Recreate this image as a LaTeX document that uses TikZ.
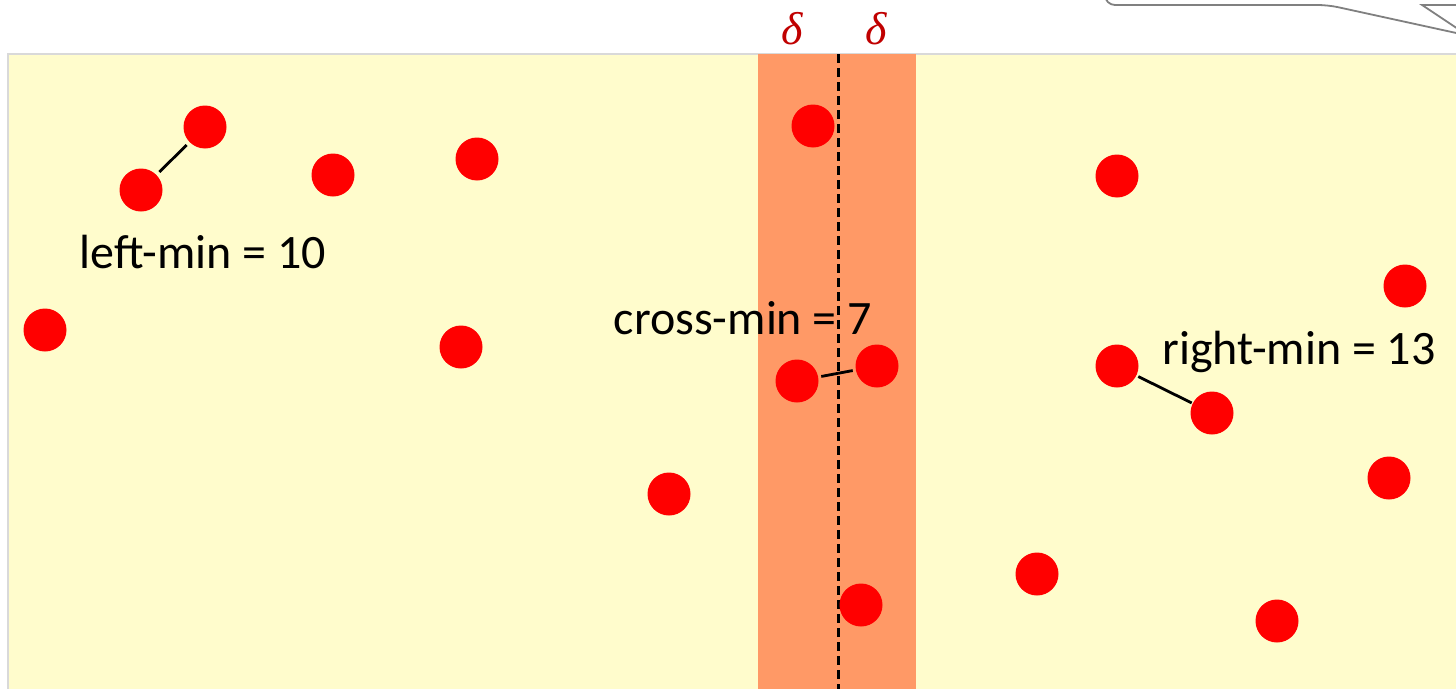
\documentclass[tikz,border=0pt]{standalone}
\usepackage{fontspec}
\setmainfont{Carlito}
\newfontfamily\grk{Liberation Serif}
\begin{document}
\begin{tikzpicture}[x=1pt,y=-1pt,
  dot/.style={circle,fill=ptred,draw=none,minimum size=43pt,inner sep=0pt},
  pairline/.style={draw=black,line width=2.8pt,shorten <=4pt,shorten >=4pt},
  lbl/.style={font=\fontsize{48}{56}\selectfont,inner sep=0pt},
  dlbl/.style={font=\grk\itshape\fontsize{46}{52}\selectfont,text=dred,inner sep=0pt},
  callout/.style={draw=cgray,line width=1.8pt}]
\definecolor{ptred}{RGB}{255,0,0}
\definecolor{bgyel}{RGB}{255,252,204}
\definecolor{band}{RGB}{255,153,102}
\definecolor{dred}{RGB}{192,0,0}
\definecolor{cgray}{RGB}{128,128,128}
\definecolor{edge}{RGB}{217,217,217}
\useasboundingbox (0,0) rectangle (1456,688);
% background region
\fill[bgyel] (8,54) rectangle (1470,700);
\draw[edge,line width=1.5pt] (8,700) -- (8,54) -- (1470,54);
% strip
\fill[band] (758,54) rectangle (916,700);
\coordinate (dtop) at (838,54);
\coordinate (dbot) at (838,700);
\draw[black,line width=3pt,dash pattern=on 9pt off 5pt] (dtop) -- (dbot);
% delta labels
\node[dlbl] (dl) at (792,29) {δ};
\node[dlbl] (dr) at (876,29) {δ};
% callout fragment
\coordinate (c1) at (1105,-2);
\coordinate (c2) at (1328,5);
\coordinate (c3) at (1470,36);
\coordinate (c4) at (1422,5);
\coordinate (c5) at (1470,37);
\coordinate (c6) at (1470,5);
\draw[callout,rounded corners=10pt] (c1) |- (c2) -- (c3);
\draw[callout] (c6) -- (c4) -- (c5);
% dots
\node[dot] (d1) at (205,127) {};
\node[dot] (d2) at (141,190) {};
\node[dot] (d3) at (333,175) {};
\node[dot] (d4) at (477,159) {};
\node[dot] (d5) at (45,330) {};
\node[dot] (d6) at (461,347) {};
\node[dot] (d7) at (669,494) {};
\node[dot] (d8) at (813,126) {};
\node[dot] (d9) at (797,381) {};
\node[dot] (d10) at (877,366) {};
\node[dot] (d11) at (861,605) {};
\node[dot] (d12) at (1117,176) {};
\node[dot] (d13) at (1405,286) {};
\node[dot] (d14) at (1117,366) {};
\node[dot] (d15) at (1212,413) {};
\node[dot] (d16) at (1389,478) {};
\node[dot] (d17) at (1037,574) {};
\node[dot] (d18) at (1277,621) {};
% closest pair links
\draw[pairline] (d2) -- (d1);
\draw[pairline,shorten <=3pt,shorten >=3pt] (d9) -- (d10);
\draw[pairline,shorten <=2pt,shorten >=1pt] (d14) -- (d15);
% labels
\node[lbl] (ll) at (203,252) {left-min = 10};
\node[lbl] (cl) at (743,318) {cross-min = 7};
\node[lbl] (rl) at (1299,352) {right-min = 13};
\end{tikzpicture}
\end{document}
